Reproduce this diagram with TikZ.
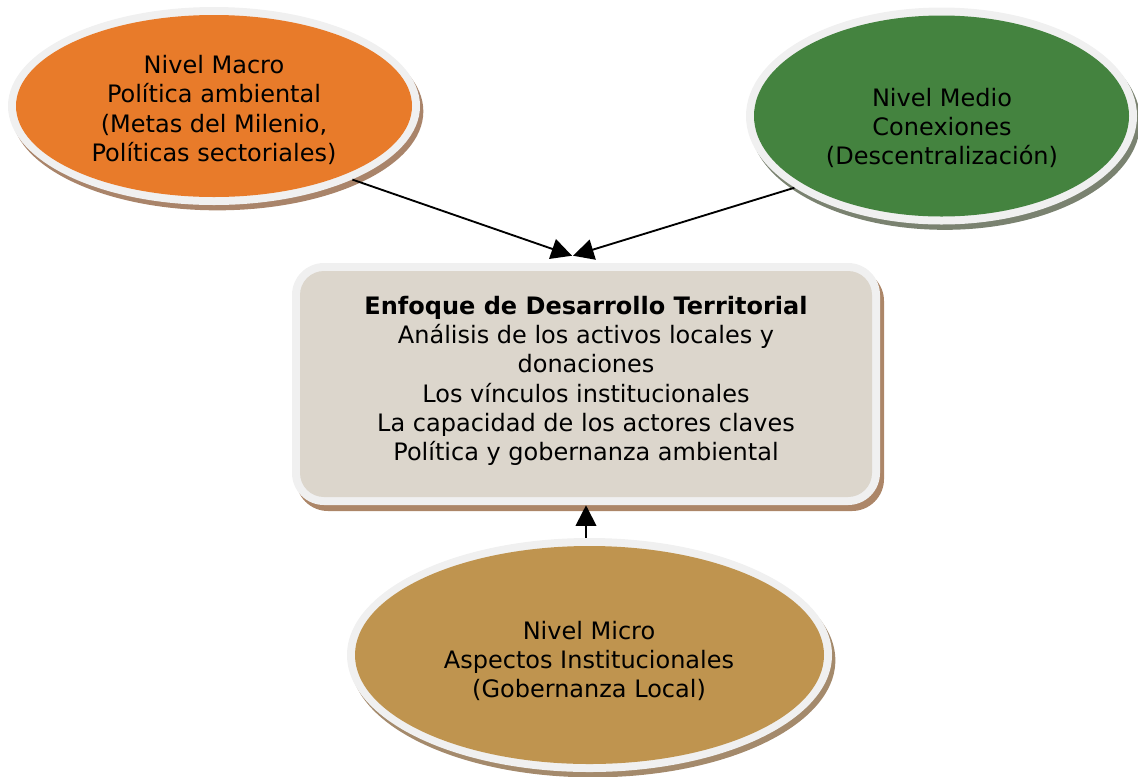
\documentclass[tikz,border=0pt]{standalone}
\usepackage{fontspec}
\setmainfont{DejaVu Sans}
\usetikzlibrary{arrows.meta,shapes.geometric,shadows}
\definecolor{rimcol}{HTML}{F0F0F0}
\definecolor{orangec}{HTML}{E87B2A}
\definecolor{greenc}{HTML}{44833F}
\definecolor{tanc}{HTML}{BF944F}
\definecolor{boxc}{HTML}{DCD6CC}
\definecolor{shOrange}{HTML}{A9846A}
\definecolor{shGreen}{HTML}{7A8270}
\definecolor{shTan}{HTML}{A48A6C}
\definecolor{shBox}{HTML}{AC8668}
\begin{document}
\begin{tikzpicture}[x=0.75pt,y=-0.75pt,
  rim/.style={fill=rimcol, draw=none, inner sep=0pt},
  oval/.style={ellipse, inner sep=0pt},
  lbl/.style={align=center, font=\fontsize{18pt}{22pt}\selectfont, inner sep=0pt},
  conn/.style={line width=1.4pt, -{Triangle[length=15.5pt,width=15.5pt]}}]
\useasboundingbox (0,0) rectangle (1138,776);

% Macro
\node[rim, oval, minimum width=309pt, minimum height=148.5pt,
  drop shadow={shadow xshift=2.5pt, shadow yshift=-4pt, opacity=1, fill=shOrange}] (macro) at (214,106) {};
\node[oval, fill=orangec, minimum width=297pt, minimum height=136.5pt] (macroin) at (214,106) {};
\node[lbl] (macrot) at (214,110) {Nivel Macro\\Política ambiental\\(Metas del Milenio,\\Políticas sectoriales)};

% Medio
\node[rim, oval, minimum width=293.25pt, minimum height=162.75pt,
  drop shadow={shadow xshift=2.5pt, shadow yshift=-4pt, opacity=1, fill=shGreen}] (medio) at (941.5,116) {};
\node[oval, fill=greenc, minimum width=281.25pt, minimum height=150.75pt] (medioin) at (941.5,116) {};
\node[lbl] (mediot) at (942,128) {Nivel Medio\\Conexiones\\(Descentralización)};

% Box
\node[rim, rectangle, rounded corners=24pt, minimum width=441pt, minimum height=181.5pt,
  drop shadow={shadow xshift=3pt, shadow yshift=-4.5pt, opacity=1, fill=shBox}] (box) at (586,384) {};
\node[rectangle, rounded corners=18pt, fill=boxc, minimum width=429pt, minimum height=169.5pt, inner sep=0pt] (boxin) at (586,384) {};
\node[lbl] (boxt) at (586,381) {\textbf{Enfoque de Desarrollo Territorial}\\Análisis de los activos locales y\\donaciones\\Los vínculos institucionales\\La capacidad de los actores claves\\Política y gobernanza ambiental};

% Micro
\node[rim, oval, minimum width=363.75pt, minimum height=175.5pt,
  drop shadow={shadow xshift=2.5pt, shadow yshift=-4pt, opacity=1, fill=shTan}] (micro) at (589.5,655) {};
\node[oval, fill=tanc, minimum width=351.75pt, minimum height=163.5pt] (microin) at (589.5,655) {};
\node[lbl] (microt) at (589,661) {Nivel Micro\\Aspectos Institucionales\\(Gobernanza Local)};

% Connectors
\draw[conn] (macro.-28) -- ([shift={(-14,-7)}]box.north);
\draw[conn] (medio.206) -- ([shift={(-13,-7)}]box.north);
\draw[conn] (micro.north -| box.south) -- (box.south);
\end{tikzpicture}
\end{document}
